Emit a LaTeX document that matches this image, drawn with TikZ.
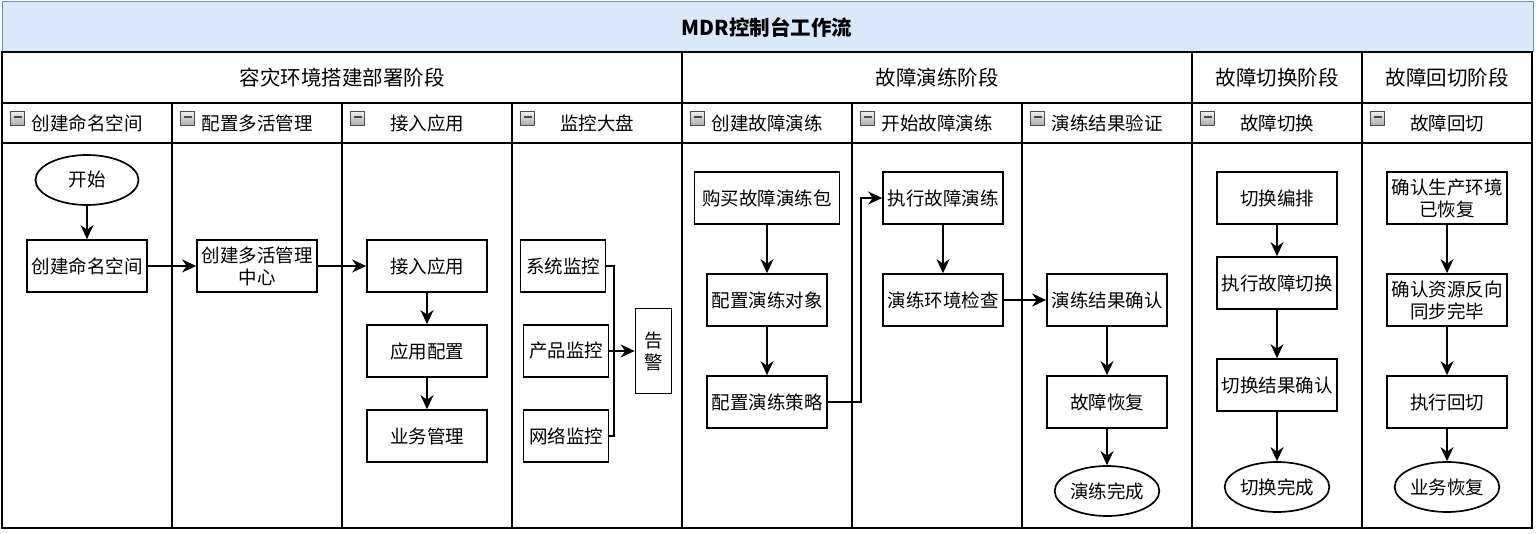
\documentclass[tikz,border=0pt]{standalone}
\usepackage{fontspec}
\setmainfont{Noto Sans CJK SC}
\usetikzlibrary{arrows.meta,shapes.geometric}
\definecolor{titlefill}{HTML}{DAE8FC}
\definecolor{titleline}{HTML}{6C8EBF}
\begin{document}
\begin{tikzpicture}[x=1pt,y=-1pt,
  box/.style={draw, line width=1.7pt, minimum width=120pt, minimum height=52pt, inner sep=1pt, font=\fontsize{18.5}{22}\selectfont, align=center},
  term/.style={ellipse, draw, line width=1.7pt, minimum width=103pt, minimum height=50pt, inner sep=0pt, font=\fontsize{18.5}{22}\selectfont},
  arr/.style={-{Stealth[length=14pt,width=13pt,inset=4.5pt]}, line width=1.7pt},
  wire/.style={line width=1.7pt},
  lane/.style={line width=1.7pt},
  phase/.style={font=\fontsize{20.5}{24}\selectfont},
  lanetitle/.style={font=\fontsize{18.5}{22}\selectfont},
  icon/.style={draw=gray!60!black, line width=0.8pt, minimum size=14pt, inner sep=0pt, top color=gray!10, bottom color=gray!65,
    path picture={\draw[line width=1.8pt] ([xshift=3pt,yshift=1pt]path picture bounding box.west) -- ([xshift=-3pt,yshift=1pt]path picture bounding box.east);}}
]
\useasboundingbox (0,0) rectangle (1536,534);
% title
\draw[fill=titlefill, draw=titleline, line width=1pt] (2,2) rectangle (1533,52);
\node[font=\fontsize{20.5}{24}\selectfont\bfseries] (title) at (767,27) {MDR控制台工作流};
% grid
\draw[lane] (2,52) rectangle (1532,528);
\draw[lane] (2,103) -- (1532,103);
\draw[lane] (2,143) -- (1532,143);
\foreach \x in {682,1192,1362} \draw[lane] (\x,52) -- (\x,528);
\foreach \x in {172,342,512,852,1022} \draw[lane] (\x,103) -- (\x,528);
% phases
\node[phase] (p1) at (342,78) {容灾环境搭建部署阶段};
\node[phase] (p2) at (937,78) {故障演练阶段};
\node[phase] (p3) at (1277,78) {故障切换阶段};
\node[phase] (p4) at (1447,78) {故障回切阶段};
% lane headers
\foreach \i/\x/\t in {1/2/创建命名空间,2/172/配置多活管理,3/342/接入应用,4/512/监控大盘,5/682/创建故障演练,6/852/开始故障演练,7/1022/演练结果验证,8/1192/故障切换,9/1362/故障回切}{
  \node[icon] (ic\i) at (\x+15.5,118) {};
  \node[lanetitle] (lt\i) at (\x+85,123) {\t};
}
% lane 1-3
\node[term] (start) at (87,180) {开始};
\node[box] (ns) at (87,266) {创建命名空间};
\node[box] (mc) at (257,266) {创建多活管理\\中心};
\node[box] (app) at (427,266) {接入应用};
\node[box] (cfg) at (427,351) {应用配置};
\node[box] (biz) at (427,436) {业务管理};
% monitoring
\node[box, minimum width=85pt] (sys) at (563,266) {系统监控};
\node[box, minimum width=85pt] (prod) at (566,351) {产品监控};
\node[box, minimum width=85pt] (net) at (566,436) {网络监控};
\node[box, minimum width=36pt, minimum height=85pt] (alarm) at (653.5,351) {告\\警};
\coordinate (bus) at (614,351);
% drill
\node[box, minimum width=145pt] (buy) at (767,198) {购买故障演练包};
\node[box] (obj) at (767,300) {配置演练对象};
\node[box] (pol) at (767,402) {配置演练策略};
\node[box] (exe) at (943,198) {执行故障演练};
\node[box] (chk) at (943,300) {演练环境检查};
\node[box] (res) at (1107,300) {演练结果确认};
\node[box] (rec) at (1107,402) {故障恢复};
\node[term] (done1) at (1107,491) {演练完成};
\coordinate (jog) at (861,402);
% switch
\node[box] (orch) at (1277,198) {切换编排};
\node[box] (swx) at (1277,283) {执行故障切换};
\node[box] (swc) at (1277,385) {切换结果确认};
\node[term] (done2) at (1277,487) {切换完成};
% switch back
\node[box] (env) at (1447,198) {确认生产环境\\已恢复};
\node[box] (sync) at (1447,300) {确认资源反向\\同步完毕};
\node[box] (back) at (1447,402) {执行回切};
\node[term] (done3) at (1447,487) {业务恢复};
% connectors
\draw[arr] (start) -- (ns);
\draw[arr] (ns) -- (mc);
\draw[arr] (mc) -- (app);
\draw[arr] (app) -- (cfg);
\draw[arr] (cfg) -- (biz);
\draw[wire] (sys.east) -| (bus);
\draw[wire] (net.east) -| (bus);
\draw[arr] (prod.east) -- (alarm.west);
\draw[arr] (buy) -- (obj);
\draw[arr] (obj) -- (pol);
\draw[arr] (pol.east) -- (jog) |- (exe.west);
\draw[arr] (exe) -- (chk);
\draw[arr] (chk) -- (res);
\draw[arr] (res) -- (rec);
\draw[arr] (rec) -- (done1);
\draw[arr] (orch) -- (swx);
\draw[arr] (swx) -- (swc);
\draw[arr] (swc) -- (done2);
\draw[arr] (env) -- (sync);
\draw[arr] (sync) -- (back);
\draw[arr] (back) -- (done3);
\end{tikzpicture}
\end{document}
